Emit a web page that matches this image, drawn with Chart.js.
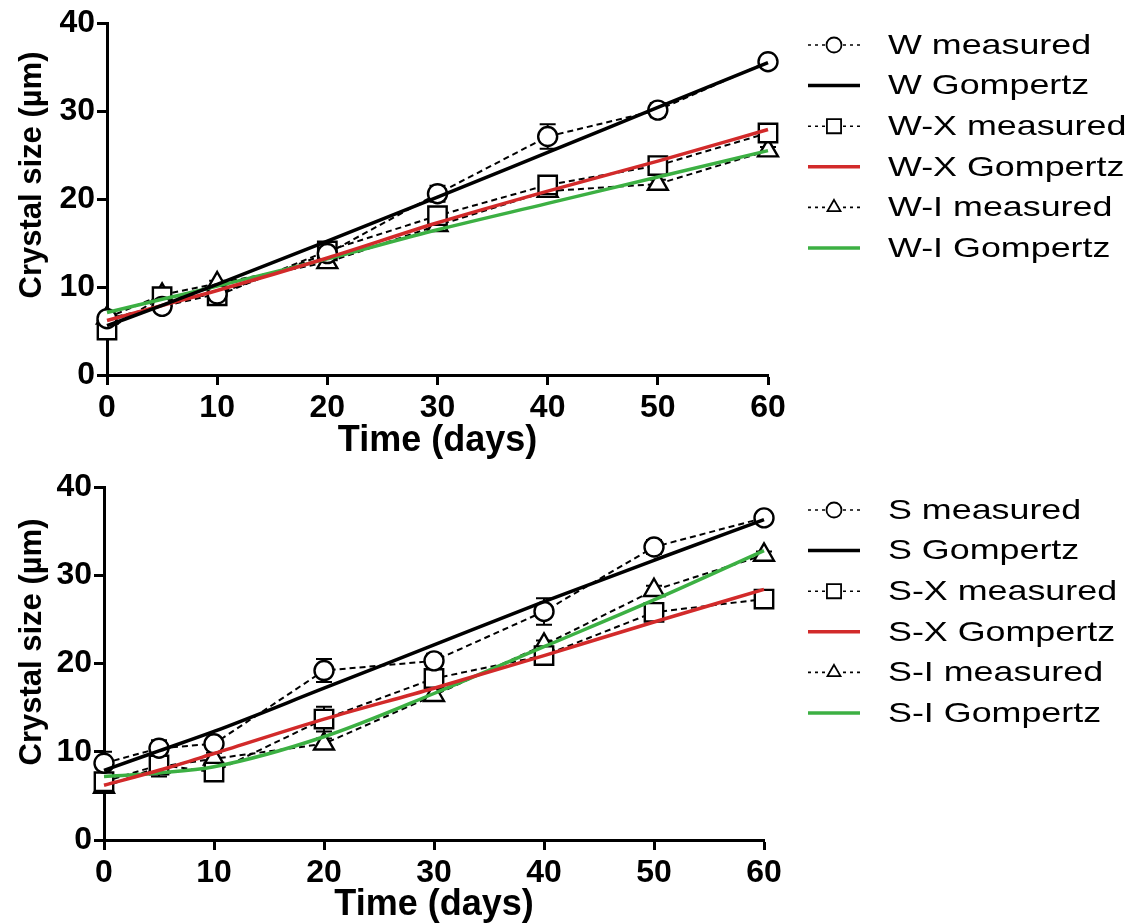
<!DOCTYPE html>
<html>
<head>
<meta charset="utf-8">
<script src="https://cdn.jsdelivr.net/npm/chart.js@4.4.1/dist/chart.umd.min.js"></script>
<style>
  html, body { margin: 0; padding: 0; background: #fff; }
  #wrap { position: relative; width: 1135px; height: 923px; }
  canvas { position: absolute; left: 0; }
  #topChart { top: 0; }
  #bottomChart { top: 458px; }
</style>
</head>
<body>
<div id="wrap">
  <canvas id="topChart" width="1135" height="465"></canvas>
  <canvas id="bottomChart" width="1135" height="465"></canvas>
</div>
<script>
// sampling days
const DAYS = [0, 5, 10, 20, 30, 40, 50, 60];

// top panel (W series)
const W_MEAS  = [6.4, 7.8, 9.2, 13.8, 20.6, 27.1, 30.1, 35.6];
const W_ERR   = [0.5, 0.5, 0.4, 0.6, 0.9, 1.4, 0.8, 0.3];
const W_GOMP  = [5.6, 7.9, 10.3, 15.2, 20.2, 25.3, 30.4, 35.5];
const WX_MEAS = [5.1, 8.9, 9.0, 14.1, 18.1, 21.6, 23.8, 27.5];
const WX_ERR  = [0.4, 0.5, 0.4, 0.5, 0.8, 0.6, 0.7, 0.4];
const WX_GOMP = [6.2, 7.9, 9.6, 13.3, 17.3, 20.9, 24.3, 27.9];
const WI_MEAS = [6.5, 9.1, 10.4, 12.8, 17.0, 20.9, 21.7, 25.5];
const WI_ERR  = [0.3, 0.4, 0.3, 0.5, 0.5, 0.5, 0.5, 0.4];
const WI_GOMP = [7.1, 8.6, 10.1, 13.2, 16.5, 19.5, 22.5, 25.5];

// bottom panel (S series)
const S_MEAS  = [8.7, 10.4, 10.9, 19.2, 20.3, 25.9, 33.2, 36.5];
const S_ERR   = [1.3, 0.9, 0.7, 1.3, 0.8, 1.5, 0.8, 0.3];
const S_GOMP  = [7.9, 10.1, 12.3, 17.2, 22.1, 27.0, 31.7, 36.3];
const SX_MEAS = [6.6, 8.5, 7.7, 13.7, 18.3, 20.9, 25.8, 27.3];
const SX_ERR  = [0.6, 1.3, 0.6, 1.4, 1.0, 0.5, 0.7, 0.4];
const SX_GOMP = [6.2, 7.9, 9.8, 13.7, 17.2, 20.9, 24.7, 28.4];
const SI_MEAS = [6.0, 8.3, 9.2, 10.9, 16.4, 22.1, 28.3, 32.3];
const SI_ERR  = [0.6, 0.6, 0.7, 0.6, 0.6, 0.5, 0.5, 0.4];
const SI_GOMP = [7.2, 7.6, 8.3, 11.7, 16.6, 21.9, 27.2, 32.8];

const X_TICKS = [0, 10, 20, 30, 40, 50, 60];
const Y_TICKS = [0, 10, 20, 30, 40];

const RED = '#d22a2a';
const GREEN = '#3cb043';
const FONT = '"Liberation Sans", Arial, sans-serif';

const toPoints = (ys) => DAYS.map((d, i) => ({ x: d, y: ys[i] }));

function measured(label, ys, errs, style, radius) {
    return {
        label: label,
        data: toPoints(ys),
        errorBars: errs,
        kind: 'measured',
        borderColor: '#000',
        borderWidth: 2,
        borderDash: [6, 4],
        pointStyle: style,
        pointRadius: radius,
        pointBorderWidth: 2.4,
        pointBorderColor: '#000',
        pointBackgroundColor: '#fff',
        tension: 0,
        clip: false,
        order: 2
    };
}

function gompertz(label, ys, color) {
    return {
        label: label,
        data: toPoints(ys),
        kind: 'fit',
        borderColor: color,
        borderWidth: 3.5,
        pointRadius: 0,
        cubicInterpolationMode: 'monotone',
        clip: false,
        order: 1
    };
}

// vertical error bars with caps, drawn under the markers
const errorBarPlugin = {
    id: 'errorBars',
    beforeDatasetsDraw(chart) {
        const ctx = chart.ctx;
        const xs = chart.scales.x, ys = chart.scales.y;
        ctx.save();
        ctx.strokeStyle = '#000';
        ctx.lineWidth = 2;
        chart.data.datasets.forEach((ds) => {
            if (!ds.errorBars) return;
            ds.data.forEach((p, i) => {
                const e = ds.errorBars[i];
                const px = xs.getPixelForValue(p.x);
                const top = ys.getPixelForValue(p.y + e);
                const bot = ys.getPixelForValue(p.y - e);
                ctx.beginPath();
                ctx.moveTo(px, top); ctx.lineTo(px, bot);
                ctx.moveTo(px - 8, top); ctx.lineTo(px + 8, top);
                ctx.moveTo(px - 8, bot); ctx.lineTo(px + 8, bot);
                ctx.stroke();
            });
        });
        ctx.restore();
    }
};

// y axis title, placed a bit above the plot centre as in the original
const yTitlePlugin = {
    id: 'yTitle',
    afterDraw(chart, args, opts) {
        const ctx = chart.ctx;
        ctx.save();
        ctx.translate(opts.x, opts.y);
        ctx.rotate(-Math.PI / 2);
        ctx.font = 'bold 31px ' + FONT;
        ctx.fillStyle = '#000';
        ctx.textAlign = 'center';
        ctx.textBaseline = 'middle';
        ctx.fillText(opts.text, 0, 0);
        ctx.restore();
    }
};

// legend drawn as in the original: line sample + marker, wide text
const sideLegendPlugin = {
    id: 'sideLegend',
    afterDraw(chart, args, opts) {
        const ctx = chart.ctx;
        ctx.save();
        chart.data.datasets.forEach((ds, i) => {
            const y = opts.y + i * opts.gap;
            const x0 = opts.x, x1 = opts.x + 52;
            ctx.strokeStyle = ds.borderColor;
            ctx.beginPath();
            if (ds.kind === 'measured') {
                ctx.lineWidth = 1.6;
                ctx.setLineDash([3, 4]);
            } else {
                ctx.lineWidth = 3.5;
                ctx.setLineDash([]);
            }
            ctx.moveTo(x0, y); ctx.lineTo(x1, y);
            ctx.stroke();
            ctx.setLineDash([]);
            if (ds.kind === 'measured') {
                ctx.fillStyle = '#fff';
                ctx.strokeStyle = '#000';
                ctx.lineWidth = 1.8;
                const r = ds.pointStyle === 'rect' ? 10 : 7.5;
                Chart.helpers.drawPoint(ctx, { pointStyle: ds.pointStyle, radius: r, rotation: 0, borderWidth: 1.8 }, (x0 + x1) / 2, y);
            }
            ctx.fillStyle = '#000';
            ctx.font = '28px ' + FONT;
            ctx.textBaseline = 'middle';
            ctx.translate(opts.x + 80, y);
            ctx.scale(1.28, 1);
            ctx.fillText(ds.label, 0, 1);
            ctx.setTransform(1, 0, 0, 1, 0, 0);
        });
        ctx.restore();
    }
};

function makePanel(canvasId, datasets, box) {
    const canvas = document.getElementById(canvasId);
    return new Chart(canvas, {
        type: 'line',
        data: { datasets: datasets },
        plugins: [errorBarPlugin, sideLegendPlugin, yTitlePlugin],
        options: {
            responsive: false,
            animation: false,
            devicePixelRatio: 1,
            layout: { padding: { top: box.top, right: box.right, left: 0, bottom: 0 } },
            plugins: {
                legend: { display: false },
                tooltip: { enabled: false },
                sideLegend: box.legend,
                yTitle: { text: 'Crystal size (µm)', x: 32, y: box.yTitleY }
            },
            scales: {
                x: {
                    type: 'linear',
                    min: 0, max: 60,
                    afterBuildTicks: (s) => { s.ticks = X_TICKS.map(v => ({ value: v })); },
                    afterFit: (s) => { s.height = box.xHeight; },
                    border: { color: '#000', width: 3 },
                    grid: { drawOnChartArea: false, color: '#000', tickLength: 10, tickWidth: 3 },
                    ticks: { color: '#000', padding: 4, font: { family: FONT, size: 32, weight: 'bold' } },
                    title: {
                        display: true,
                        text: 'Time (days)',
                        color: '#000',
                        padding: { top: 0, bottom: box.xTitlePad },
                        font: { family: FONT, size: 36, weight: 'bold', lineHeight: 1 }
                    }
                },
                y: {
                    min: 0, max: 40,
                    afterBuildTicks: (s) => { s.ticks = Y_TICKS.map(v => ({ value: v })); },
                    afterFit: (s) => { s.width = box.yWidth; },
                    border: { color: '#000', width: 3 },
                    grid: { drawOnChartArea: false, color: '#000', tickLength: 10, tickWidth: 3 },
                    ticks: { color: '#000', padding: 2, font: { family: FONT, size: 32, weight: 'bold' } },
                    title: { display: false }
                }
            }
        }
    });
}

makePanel('topChart', [
    measured('W measured', W_MEAS, W_ERR, 'circle', 9.5),
    gompertz('W Gompertz', W_GOMP, '#000'),
    measured('W-X measured', WX_MEAS, WX_ERR, 'rect', 13),
    gompertz('W-X Gompertz', WX_GOMP, RED),
    measured('W-I measured', WI_MEAS, WI_ERR, 'triangle', 11.5),
    gompertz('W-I Gompertz', WI_GOMP, GREEN)
], {
    top: 23, right: 367, yWidth: 107, xHeight: 90, xTitlePad: 6, yTitleY: 175,
    legend: { x: 808, y: 45, gap: 40.6 }
});

makePanel('bottomChart', [
    measured('S measured', S_MEAS, S_ERR, 'circle', 9.5),
    gompertz('S Gompertz', S_GOMP, '#000'),
    measured('S-X measured', SX_MEAS, SX_ERR, 'rect', 13),
    gompertz('S-X Gompertz', SX_GOMP, RED),
    measured('S-I measured', SI_MEAS, SI_ERR, 'triangle', 11.5),
    gompertz('S-I Gompertz', SI_GOMP, GREEN)
], {
    top: 29, right: 371, yWidth: 104, xHeight: 83, xTitlePad: 0, yTitleY: 184,
    legend: { x: 808, y: 52, gap: 40.6 }
});
</script>
</body>
</html>
